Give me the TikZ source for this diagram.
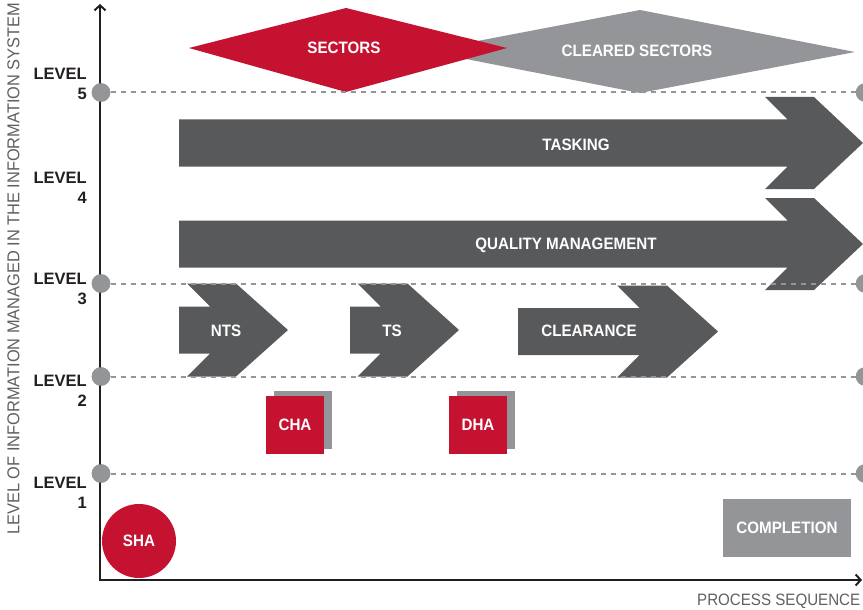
\documentclass[tikz,border=0pt]{standalone}
\usepackage{fontspec}
\setmainfont{Liberation Sans}
\usepackage{graphicx}
\usetikzlibrary{arrows.meta}
\definecolor{secred}{HTML}{C41230}
\definecolor{darkg}{HTML}{58595B}
\definecolor{lightg}{HTML}{939598}
\definecolor{axisblack}{HTML}{231F20}
\definecolor{capg}{HTML}{5F6062}
\newcommand\cnd[1]{\scalebox{0.92}[1]{#1}}
% #1 body left, #2 centre y, #3 body half height, #4 head left, #5 head half height, #6 head thickness, #7 tip offset
\newcommand\chevarrow[7]{%
  \fill[darkg] ({#1},{#2-#3}) -- ({#4+#5-#3},{#2-#3}) -- ({#4},{#2-#5}) -- ({#4+#6},{#2-#5})
    -- ({#4+#6+#7},{#2}) -- ({#4+#6},{#2+#5}) -- ({#4},{#2+#5}) -- ({#4+#5-#3},{#2+#3})
    -- ({#1},{#2+#3}) -- cycle;}
\begin{document}
\begin{tikzpicture}[x=1pt,y=-1pt,
  lbl/.style={text=white,font=\bfseries\fontsize{16.5}{20}\selectfont,inner sep=0},
  lvl/.style={text=axisblack,font=\bfseries\fontsize{16.5}{20}\selectfont,inner sep=0,align=right,anchor=north east},
  levdot/.style={circle,fill=lightg,minimum size=18.6pt,inner sep=0},
  guide/.style={lightg,line width=2pt,dash pattern=on 5.3pt off 4.7pt},
  axisline/.style={axisblack,line width=2pt,line join=miter,
    {Straight Barb[length=5pt,width=11pt,line width=2pt]}-{Straight Barb[length=5pt,width=11pt,line width=2pt]}},
  redsq/.style={rectangle,fill=secred,minimum size=58pt,inner sep=0,text=white,font=\bfseries\fontsize{16.5}{20}\selectfont},
  shadowsq/.style={rectangle,fill=lightg,minimum size=58pt,inner sep=0},
]
\useasboundingbox (0,0) rectangle (863,610);

% diamonds
\fill[lightg] (425,51) -- (640,10) -- (855,52) -- (640,93) -- cycle;
\fill[secred] (189,48) -- (346,8) -- (507,48) -- (346,92) -- cycle;
\node[lbl] (sectors) at (344,48) {\cnd{SECTORS}};
\node[lbl] (cleared) at (637,51) {\cnd{CLEARED SECTORS}};

% big arrows
\chevarrow{179}{143}{23.5}{765}{46}{49}{49}
\chevarrow{179}{244}{23.5}{765}{46}{49}{49}
\node[lbl] (tasking) at (576,145) {\cnd{TASKING}};
\node[lbl] (qm) at (566,245) {\cnd{QUALITY MANAGEMENT}};

% small arrows
\chevarrow{179}{330}{23.5}{187}{46.5}{49}{52}
\chevarrow{350}{330}{23.5}{357.5}{46.5}{50}{51.5}
\chevarrow{518}{331.5}{23.5}{617}{46}{50}{51}
\node[lbl] (nts) at (226,331) {\cnd{NTS}};
\node[lbl] (ts) at (392,331) {\cnd{TS}};
\node[lbl] (clearance) at (589,331) {\cnd{CLEARANCE}};

% CHA / DHA
\node[shadowsq] (chash) at (303,419.5) {};
\node[redsq] (cha) at (295,425) {\cnd{CHA}};
\node[shadowsq] (dhash) at (486,420) {};
\node[redsq] (dha) at (478,425) {\cnd{DHA}};

% SHA
\node[circle,fill=secred,minimum size=74pt,inner sep=0,text=white,font=\bfseries\fontsize{16.5}{20}\selectfont] (sha) at (139,541) {\cnd{SHA}};

% COMPLETION
\node[rectangle,fill=lightg,minimum width=128pt,minimum height=58pt,inner sep=0,text=white,font=\bfseries\fontsize{16.5}{20}\selectfont] (completion) at (787,528) {\cnd{COMPLETION}};

% level dots and guide lines
\node[levdot] (d5l) at (101,92.5) {};
\node[levdot] (d3l) at (101,283.5) {};
\node[levdot] (d2l) at (101,376.5) {};
\node[levdot] (d1l) at (101,473.5) {};
\node[levdot] (d5r) at (865,92.5) {};
\node[levdot] (d3r) at (865,283.5) {};
\node[levdot] (d2r) at (865,376.5) {};
\node[levdot] (d1r) at (865,473.5) {};
\draw[guide] (d5l) -- (d5r);
\draw[guide] (d3l) -- (d3r);
\draw[guide] (d2l) -- (d2r);
\draw[guide] (d1l) -- (d1r);

% axes
\coordinate (ytop) at (100,4);
\coordinate (origin) at (100,580);
\coordinate (xend) at (862,580);
\draw[axisline] (ytop) -- (origin) -- (xend);

% redraw dots on axis over the line
\node[levdot] at (101,92.5) {};
\node[levdot] at (101,283.5) {};
\node[levdot] at (101,376.5) {};
\node[levdot] at (101,473.5) {};

% level labels
\node[lvl] (lv5) at (87,68) {LEVEL\\5};
\node[lvl] (lv4) at (87,172) {LEVEL\\4};
\node[lvl] (lv3) at (87,273) {LEVEL\\3};
\node[lvl] (lv2) at (87,375) {LEVEL\\2};
\node[lvl] (lv1) at (87,477) {LEVEL\\1};

% axis captions
\node[rotate=90,anchor=base west,inner sep=0,text=capg] (ycap) at (19.3,535)
  {\resizebox{532pt}{12pt}{LEVEL OF INFORMATION MANAGED IN THE INFORMATION SYSTEM}};
\node[anchor=base west,inner sep=0,text=capg] (xcap) at (697,605)
  {\resizebox{163pt}{11.5pt}{PROCESS SEQUENCE}};
\end{tikzpicture}
\end{document}
